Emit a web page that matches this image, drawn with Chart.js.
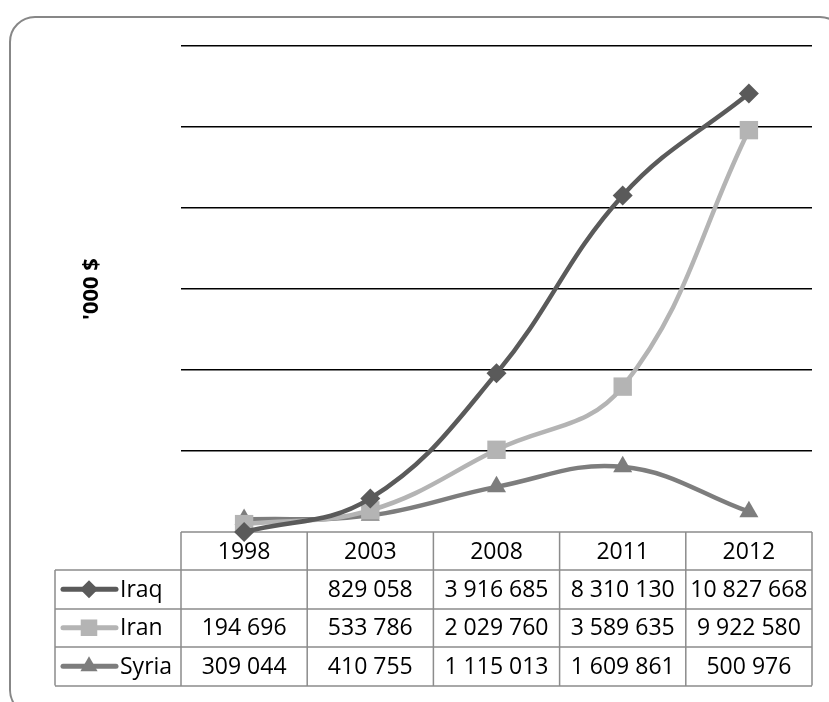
<!DOCTYPE html>
<html>
<head>
<meta charset="utf-8">
<script src="https://cdn.jsdelivr.net/npm/chart.js@4.4.0/dist/chart.umd.min.js"></script>
<style>
  html, body { margin: 0; padding: 0; background: #fff; }
  canvas { display: block; }
</style>
</head>
<body>
<canvas id="grafico" width="829" height="702"></canvas>
<script>
const anos  = ['1998', '2003', '2008', '2011', '2012'];
const iraq  = [null, 829058, 3916685, 8310130, 10827668];
const iran  = [194696, 533786, 2029760, 3589635, 9922580];
const syria = [309044, 410755, 1115013, 1609861, 500976];
const yTicks = [0, 2000000, 4000000, 6000000, 8000000, 10000000, 12000000];

const FONTE = '"Open Sans", "Liberation Sans", sans-serif';

const series = [
  { nome: 'Iraq',  valores: iraq,  cor: '#5a5a5a', ponto: 'rectRot',  raio: 10 },
  { nome: 'Iran',  valores: iran,  cor: '#b4b4b4', ponto: 'rect',     raio: 13 },
  { nome: 'Syria', valores: syria, cor: '#7d7d7d', ponto: 'triangle', raio: 11 }
];

function formatar(v) {
  if (v === null || v === undefined) return '';
  return String(v).replace(/\B(?=(\d{3})+(?!\d))/g, ' ');
}

/* =========================================================
   MOLDURA + TABELA DE DADOS
========================================================= */
const moldura = {
  id: 'moldura',
  beforeDraw(chart) {
    const ctx = chart.ctx;
    ctx.save();
    ctx.strokeStyle = '#878787';
    ctx.lineWidth = 2;
    ctx.beginPath();
    ctx.roundRect(10, 17, 835, 698, 25);
    ctx.stroke();
    ctx.restore();
  }
};

const tabela = {
  id: 'tabela',
  beforeDatasetsDraw(chart) {
    const ctx = chart.ctx;
    const x = chart.scales.x;
    const area = chart.chartArea;
    const topo = area.bottom;
    const hCab = 38, hLin = 38.5;
    const esq = 55;
    const larg = (area.right - area.left) / anos.length;
    const fundo = topo + hCab + hLin * series.length;

    ctx.save();
    ctx.strokeStyle = '#8c8c8c';
    ctx.lineWidth = 1.5;
    ctx.beginPath();
    ctx.moveTo(area.left, topo); ctx.lineTo(area.right, topo);
    for (let i = 0; i <= series.length; i++) {
      const y = Math.round(topo + hCab + hLin * i);
      ctx.moveTo(esq, y); ctx.lineTo(area.right, y);
    }
    ctx.moveTo(esq, topo + hCab); ctx.lineTo(esq, fundo);
    for (let i = 0; i <= anos.length; i++) {
      const xx = area.left + larg * i;
      ctx.moveTo(xx, topo); ctx.lineTo(xx, fundo);
    }
    ctx.stroke();

    ctx.fillStyle = '#000';
    ctx.font = '23px ' + FONTE;
    ctx.textAlign = 'center';
    ctx.textBaseline = 'middle';
    anos.forEach((a, i) => ctx.fillText(a, x.getPixelForValue(i), topo + hCab / 2 + 1));

    series.forEach((s, j) => {
      const yc = topo + hCab + hLin * j + hLin / 2;
      ctx.textAlign = 'center';
      ctx.fillStyle = '#000';
      s.valores.forEach((v, i) => ctx.fillText(formatar(v), x.getPixelForValue(i), yc + 1));

      // chave da legenda
      ctx.strokeStyle = s.cor;
      ctx.lineWidth = 5;
      ctx.lineCap = 'round';
      ctx.beginPath();
      ctx.moveTo(63, yc); ctx.lineTo(116, yc);
      ctx.stroke();
      ctx.fillStyle = s.cor;
      Chart.helpers.drawPoint(ctx, {
        pointStyle: s.ponto, radius: s.raio * 0.9, rotation: 0, borderWidth: 0
      }, 89, yc);
      ctx.fillStyle = '#000';
      ctx.textAlign = 'left';
      ctx.fillText(s.nome, 120, yc + 1);
    });
    ctx.restore();
  }
};

new Chart(document.getElementById('grafico'), {
  type: 'line',
  data: {
    labels: anos,
    datasets: series.map(s => ({
      label: s.nome,
      data: s.valores.map(v => v === null ? 0 : v),
      borderColor: s.cor,
      backgroundColor: s.cor,
      borderWidth: 4.5,
      tension: 0.4,
      pointStyle: s.ponto,
      pointRadius: s.raio,
      pointBorderWidth: 0,
      clip: false
    }))
  },
  options: {
    responsive: false,
    animation: false,
    layout: { padding: { left: 0, top: 46, right: 17, bottom: 170 } },
    plugins: {
      legend: { display: false },
      tooltip: { enabled: false }
    },
    scales: {
      x: {
        display: false,
        offset: true
      },
      y: {
        min: 0,
        max: 12000000,
        afterBuildTicks: s => { s.ticks = yTicks.map(v => ({ value: v })); },
        afterFit: s => { s.width = 181; },
        border: { display: false },
        grid: {
          drawTicks: false,
          color: c => c.tick.value === 0 ? 'rgba(0,0,0,0)' : '#000',
          lineWidth: 1.5
        },
        ticks: { display: false },
        title: {
          display: true,
          text: "'000 $",
          color: '#000',
          font: { family: FONTE, size: 22, weight: 'bold' },
          padding: { top: 79, bottom: 0 }
        }
      }
    }
  },
  plugins: [moldura, tabela]
});
</script>
</body>
</html>
